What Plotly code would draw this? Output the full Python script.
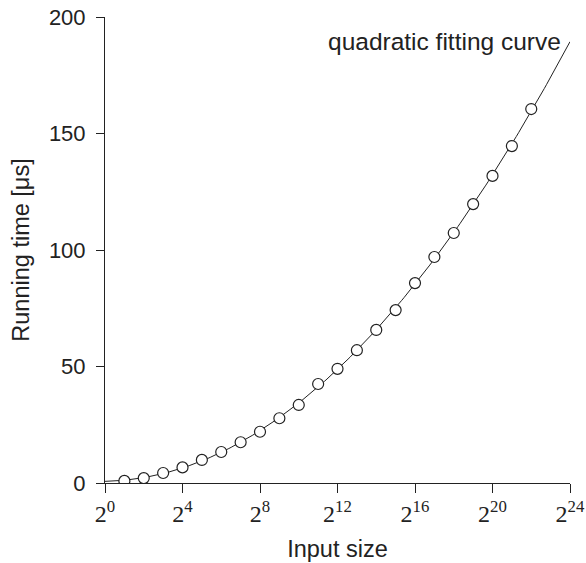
import numpy as np
import plotly.graph_objects as go

# log2(input size)
log_sizes = list(range(1, 23))
# running time [µs]
times = [0.9, 2.1, 4.3, 6.7, 9.9, 13.3, 17.5, 22.0, 27.8, 33.5, 42.5, 49.0,
         57.0, 65.7, 74.2, 85.8, 97.0, 107.3, 119.7, 131.8, 144.6, 160.5]

x_tick_vals = [0, 4, 8, 12, 16, 20, 24]
x_tick_text = ["2<sup>%d</sup>" % v for v in x_tick_vals]
y_tick_vals = [0, 50, 100, 150, 200]

# quadratic fit of the measurements
coef = np.polyfit(log_sizes, times, 2)
xf = np.linspace(0, 24, 200)
yf = np.polyval(coef, xf)

ink = "#222222"
sans = "Liberation Sans"

fig = go.Figure()
fig.add_trace(go.Scatter(x=xf, y=yf, mode="lines",
                         line=dict(color=ink, width=1), hoverinfo="skip"))
fig.add_trace(go.Scatter(x=log_sizes, y=times, mode="markers",
                         marker=dict(symbol="circle", size=11, color="white",
                                     line=dict(color=ink, width=1.2))))

fig.add_annotation(x=23.65, y=189.5, xref="x", yref="y", text="quadratic fitting curve",
                   showarrow=False, xanchor="right", yanchor="middle",
                   font=dict(family=sans, size=24.5, color=ink))

fig.update_layout(
    width=586, height=563,
    margin=dict(l=105, r=16, t=17, b=80),
    paper_bgcolor="white", plot_bgcolor="white",
    showlegend=False,
    font=dict(family=sans, size=22, color=ink),
)
fig.update_xaxes(range=[0, 24], tickvals=x_tick_vals, ticktext=x_tick_text,
                 automargin=False, ticklabeloverflow="allow",
                 showgrid=False, zeroline=False, showline=True, linecolor=ink,
                 linewidth=1, ticks="outside", ticklen=9, tickcolor=ink,
                 tickfont=dict(family="Liberation Serif", size=24, color=ink),
                 title=dict(text="Input size", font=dict(family=sans, size=23.5, color=ink),
                            standoff=14))
fig.update_yaxes(range=[0, 200], tickvals=y_tick_vals,
                 automargin=False, ticklabeloverflow="allow", ticklabelstandoff=6,
                 showgrid=False, zeroline=False, showline=True, linecolor=ink,
                 linewidth=1, ticks="outside", ticklen=8, tickcolor=ink,
                 tickfont=dict(family=sans, size=22, color=ink),
                 title=dict(text="Running time [μs]", font=dict(family=sans, size=23.5, color=ink),
                            standoff=12))

fig.write_html("out.html", config={"displayModeBar": False},
               post_script="document.body.style.margin='0';")
